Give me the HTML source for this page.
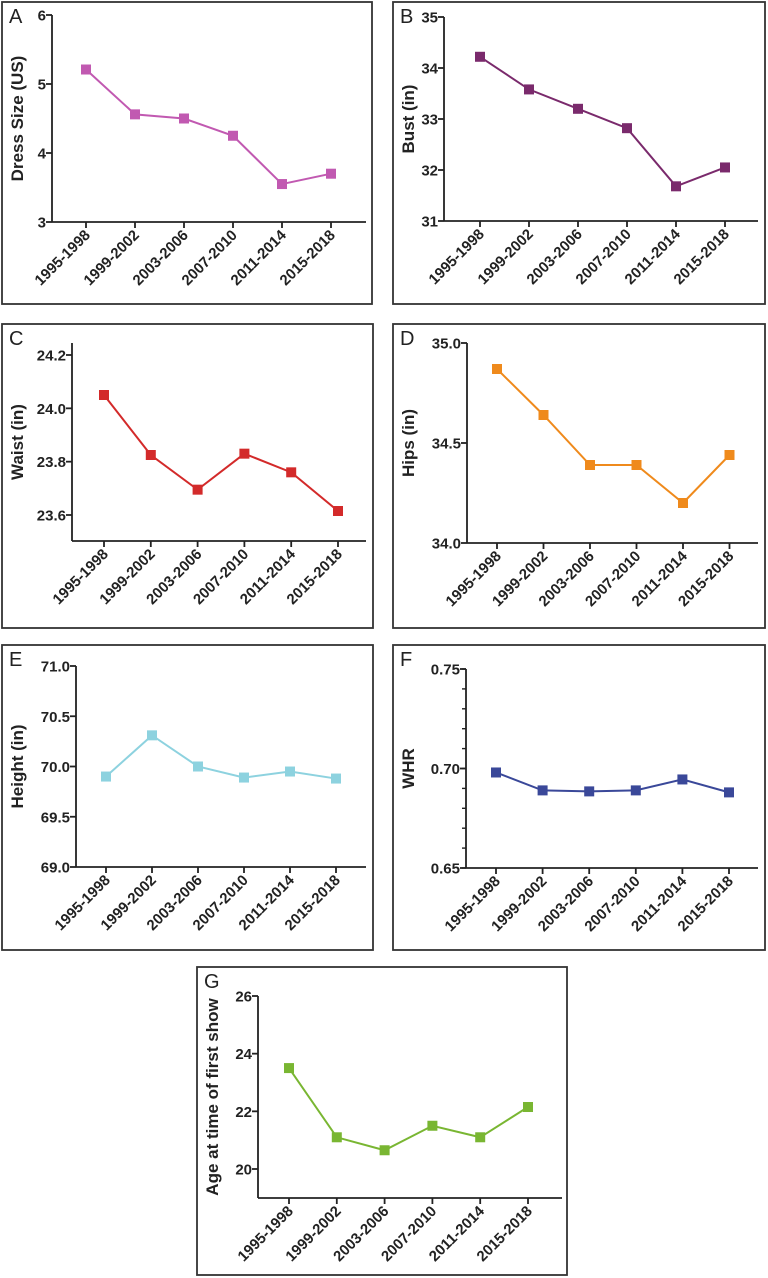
<!DOCTYPE html>
<html><head><meta charset="utf-8"><style>
html,body{margin:0;padding:0;background:#fff}
svg{display:block}
text{font-family:"Liberation Sans",Arial,sans-serif}
</style></head><body>
<svg id="s" width="768" height="1278" viewBox="0 0 768 1278" xmlns="http://www.w3.org/2000/svg"></svg>
<script>
const cats=["1995-1998","1999-2002","2003-2006","2007-2010","2011-2014","2015-2018"];
const P=[
{L:"A",box:[2,2,372,304],ax:52,top:15,bot:222,right:366,x0:86,dx:49,v0:3,y0:222,v1:6,y1:15,ticks:[3,4,5,6],dec:0,lab:"Dress Size (US)",c:"#c159b1",d:[5.21,4.56,4.5,4.25,3.55,3.7]},
{L:"B",box:[393,2,765,304],ax:444,top:17,bot:221,right:758,x0:480,dx:49,v0:31,y0:221,v1:35,y1:17,ticks:[31,32,33,34,35],dec:0,lab:"Bust (in)",c:"#7a2a6c",d:[34.22,33.58,33.2,32.82,31.68,32.05]},
{L:"C",box:[2,324,373,628],ax:72,top:343,bot:541,right:366,x0:104,dx:46.8,v0:23.6,y0:515,v1:24.2,y1:355,ticks:[23.6,23.8,24.0,24.2],dec:1,lab:"Waist (in)",c:"#d32a2a",d:[24.05,23.825,23.695,23.83,23.76,23.615]},
{L:"D",box:[393,324,765,628],ax:467,top:343,bot:543,right:758,x0:497,dx:46.5,v0:34,y0:543,v1:35,y1:343,ticks:[34,34.5,35],dec:1,lab:"Hips (in)",c:"#ef8a1c",d:[34.87,34.64,34.39,34.39,34.2,34.44]},
{L:"E",box:[2,645,373,950],ax:76,top:666,bot:867,right:366,x0:106,dx:46,v0:69,y0:867,v1:71,y1:666,ticks:[69,69.5,70,70.5,71],dec:1,lab:"Height (in)",c:"#8dd2df",d:[69.9,70.31,70.0,69.89,69.95,69.88]},
{L:"F",box:[393,645,765,950],ax:466,top:669,bot:868,right:758,x0:496,dx:46.6,v0:0.65,y0:868,v1:0.75,y1:669,ticks:[0.65,0.70,0.75],dec:2,minor:0.01,lab:"WHR",c:"#3a4899",d:[0.698,0.689,0.6885,0.689,0.6945,0.688]},
{L:"G",box:[197,967,567,1275],ax:258,top:996,bot:1198,right:562,x0:289,dx:47.8,v0:20,y0:1169,v1:26,y1:996,ticks:[20,22,24,26],dec:0,lab:"Age at time of first show",c:"#79b632",d:[23.5,21.1,20.65,21.5,21.1,22.15]}
];
let h="";
for(const p of P){
 const [bx,by,bx2,by2]=p.box;
 const Y=v=>p.y0+(v-p.v0)*(p.y1-p.y0)/(p.v1-p.v0);
 h+=`<rect x="${bx}" y="${by}" width="${bx2-bx}" height="${by2-by}" fill="none" stroke="#333" stroke-width="1.8"/>`;
 h+=`<text x="${bx+7}" y="${by+21}" font-size="20" fill="#222">${p.L}</text>`;
 h+=`<line x1="${p.ax}" y1="${p.top}" x2="${p.ax}" y2="${p.bot}" stroke="#222" stroke-width="1.8"/>`;
 h+=`<line x1="${p.ax}" y1="${p.bot}" x2="${p.right}" y2="${p.bot}" stroke="#222" stroke-width="1.8"/>`;
 if(p.minor){for(let v=p.v0;v<=p.v1+1e-9;v+=p.minor){const y=Y(v);h+=`<line x1="${p.ax-4}" y1="${y}" x2="${p.ax}" y2="${y}" stroke="#222" stroke-width="1.4"/>`;}}
 for(const t of p.ticks){const y=Y(t);
  h+=`<line x1="${p.ax-6}" y1="${y}" x2="${p.ax}" y2="${y}" stroke="#222" stroke-width="1.8"/>`;
  h+=`<text x="${p.ax-6}" y="${y+5.5}" font-size="15" font-weight="bold" text-anchor="end" fill="#222">${t.toFixed(p.dec)}</text>`;}
 const my=(p.top+p.bot)/2, lx=bx+21;
 h+=`<text transform="translate(${lx},${my}) rotate(-90)" font-size="17" font-weight="bold" text-anchor="middle" fill="#222">${p.lab}</text>`;
 let pts=[];
 cats.forEach((c,i)=>{const x=p.x0+p.dx*i;
  h+=`<line x1="${x}" y1="${p.bot}" x2="${x}" y2="${p.bot+6}" stroke="#222" stroke-width="1.8"/>`;
  h+=`<text transform="translate(${x+5},${p.bot+14}) rotate(-45)" font-size="15" font-weight="bold" text-anchor="end" fill="#222" textLength="71" lengthAdjust="spacingAndGlyphs">${c}</text>`;
  pts.push([x,Y(p.d[i])]);});
 h+=`<polyline points="${pts.map(q=>q.join(',')).join(' ')}" fill="none" stroke="${p.c}" stroke-width="2"/>`;
 for(const q of pts)h+=`<rect x="${q[0]-5}" y="${q[1]-5}" width="10" height="10" fill="${p.c}"/>`;
}
document.getElementById("s").innerHTML=h;
</script>
</body></html>
